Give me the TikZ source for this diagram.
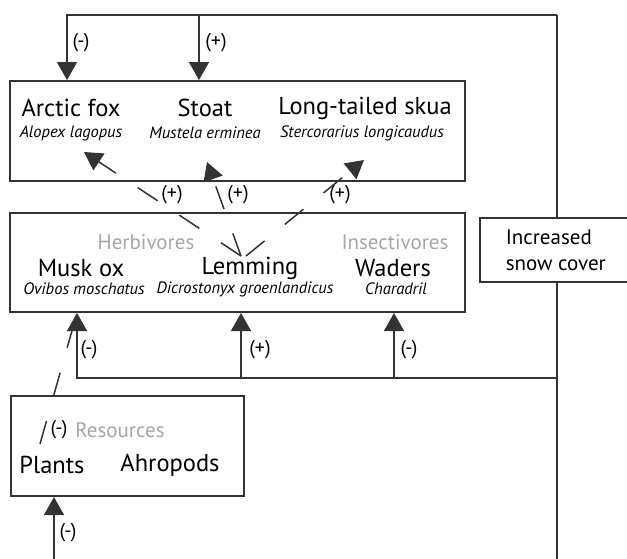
\documentclass[tikz,border=0pt]{standalone}
\usepackage{fontspec}
\setmainfont{PT Sans}
\usetikzlibrary{positioning,arrows.meta}

\begin{document}
\begin{tikzpicture}[x=1pt,y=-1pt,->,>={Triangle[width=20pt,length=18pt]},line width=1.5pt,
    color=black!80,text=black,node distance=25pt,
    box node/.style={rectangle,draw,line width=2pt,inner sep=0pt},
    name node/.style={font=\fontsize{24.5}{24.5}\selectfont,inner sep=0pt},
    latin node/.style={font=\fontsize{16.5}{16.5}\selectfont\itshape,inner sep=0pt},
    group node/.style={font=\fontsize{21}{21}\selectfont,text=black!35,inner sep=0pt},
    sign node/.style={font=\fontsize{20}{20}\selectfont,inner sep=0pt},
    link/.style={dash pattern=on 24pt off 26pt}]

\useasboundingbox (0,0) rectangle (627,558);

% boxes
\node[box node,minimum width=455pt,minimum height=100pt] (predators) at (237.5,131)   {};
\node[box node,minimum width=455pt,minimum height=99pt]  (prey)      at (237.5,262.5) {};
\node[box node,minimum width=233pt,minimum height=100pt] (resources) at (127.5,446)   {};
\node[box node,minimum width=160pt,minimum height=64pt]  (snow)      at (560,250)     {};

% predators
\node[name node]  (fox)     at (71,108)          {Arctic fox};
\node[latin node] (foxlat)  [below of=fox]       {Alopex lagopus};
\node[name node]  (stoat)   at (205,108)         {Stoat};
\node[latin node] (stoatlat)[below of=stoat]     {Mustela erminea};
\node[name node]  (skua)    at (365,108)         {Long-tailed skua};
\node[latin node] (skualat) at (362,133)         {Stercorarius longicaudus};

% prey
\node[group node] (herb)    at (146,242)         {Herbivores};
\node[group node] (insect)  at (395,242)         {Insectivores};
\node[name node]  (musk)    at (81,268)          {Musk ox};
\node[latin node] (musklat) at (84,289)          {Ovibos moschatus};
\node[name node]  (lemming) at (250,268)         {Lemming};
\node[latin node] (lemlat)  at (245,289)         {Dicrostonyx groenlandicus};
\node[name node]  (waders)  at (393,268)         {Waders};
\node[latin node] (wadlat)  at (396,289)         {Charadril};

% resources
\node[group node] (res)     at (120,430)         {Resources};
\node[name node]  (plants)  at (52,465)          {Plants};
\node[name node]  (arthro)  at (170,465)         {Ahropods};

\node[font=\fontsize{21}{26}\selectfont,align=left,anchor=west,inner sep=0pt] (snowtext) at (505,250) {Increased\\snow cover};

% end points
\coordinate (loop)    at (557,15);
\coordinate (fork)    at (199,15);
\coordinate (foxin)   at (67,80);
\coordinate (stoatin) at (199,80);
\coordinate (join)    at (557,378);
\coordinate (muskin)  at (77,313);
\coordinate (lemin)   at (241,313);
\coordinate (wadin)   at (394,313);
\coordinate (floor)   at (557,560);
\coordinate (ground)  at (54,560);
\coordinate (resin)   at (54,497);
\coordinate (fan)     at (241,256);
\coordinate (foxtip)  at (84,152);
\coordinate (stoattip)at (207,162);
\coordinate (skuatip) at (364,160);
\coordinate (plantup) at (40,444);

% snow cover
\draw[-] (snow.north -| loop) -- (loop);
\draw (loop) -| (foxin);
\draw (fork) -- (stoatin);
\draw[-] (snow.south -| loop) -- (floor);
\draw (join) -| (muskin);
\draw (join) -| (lemin);
\draw (join) -| (wadin);
\draw (ground) -- (resin);

% lemming to predators
\draw[link] (fan) -- (foxtip);
\draw[link] (fan) -- (stoattip);
\draw[link] ([xshift=5pt]fan) -- (skuatip);
\draw[link,-] (plantup) -- (muskin);

\node[sign node] (s1) at (81,43)   {(-)};
\node[sign node] (s2) at (216,43)  {(+)};
\node[sign node] (s3) at (172,195) {(+)};
\node[sign node] (s4) at (238,195) {(+)};
\node[sign node] (s5) at (340,195) {(+)};
\node[sign node] (s6) at (89,350)  {(-)};
\node[sign node] (s7) at (260,350) {(+)};
\node[sign node] (s8) at (409,350) {(-)};
\node[sign node] (s9) at (59,430)  {(-)};
\node[sign node] (s10)at (68,533)  {(-)};
\end{tikzpicture}
\end{document}
